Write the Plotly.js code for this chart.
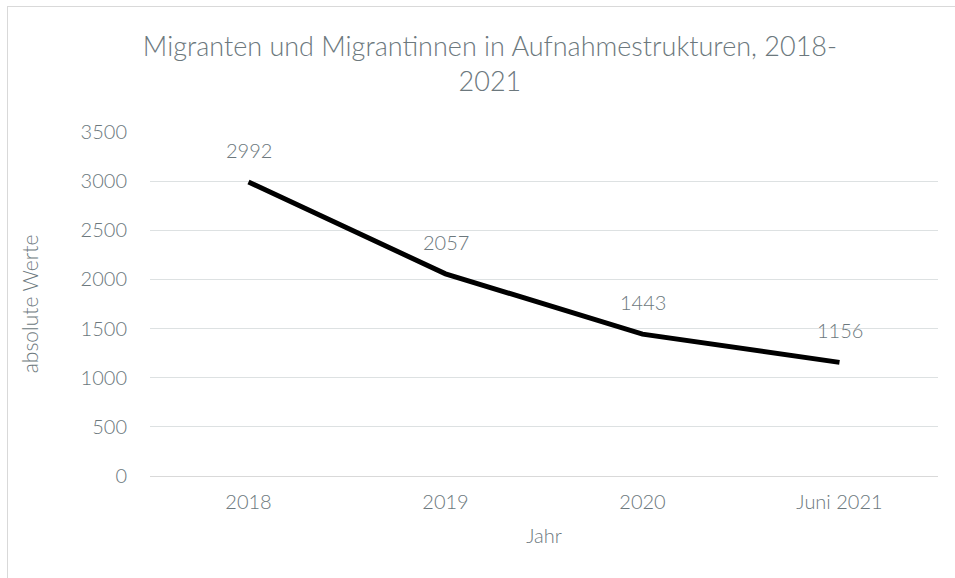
<!DOCTYPE html>
<html>
<head>
<meta charset="utf-8">
<script src="https://cdn.plot.ly/plotly-3.0.1.min.js"></script>
<style>
  html, body { margin: 0; padding: 0; background: #ffffff; overflow: hidden; }
  #wrap { position: relative; width: 955px; height: 578px; }
  #chart { width: 955px; height: 578px; }
  #frame { position: absolute; left: 7px; top: 6px; width: 1000px; height: 700px;
           border: 1px solid #d9d9d9; pointer-events: none; box-sizing: border-box; }
</style>
</head>
<body>
<div id="wrap">
  <div id="chart"></div>
  <div id="frame"></div>
</div>
<script>
const categories = ["2018", "2019", "2020", "Juni 2021"];
const values = [2992, 2057, 1443, 1156];
const yTicks = [0, 500, 1000, 1500, 2000, 2500, 3000, 3500];

const textColor = "#6c787d";
const fontFamily = "Lato, 'Open Sans', sans-serif";
const fw = 300;

const trace = {
  type: "scatter",
  mode: "lines",
  x: categories,
  y: values,
  line: { color: "#000000", width: 5 },
  hoverinfo: "x+y",
  showlegend: false
};

const annotations = categories.map((c, i) => ({
  x: i,
  y: values[i],
  xref: "x",
  yref: "y",
  text: String(values[i]),
  showarrow: false,
  yshift: 32,
  font: { family: fontFamily, size: 20, color: textColor, weight: fw }
}));

const layout = {
  width: 955,
  height: 578,
  margin: { l: 150, r: 17, t: 132, b: 102 },
  paper_bgcolor: "#ffffff",
  plot_bgcolor: "#ffffff",
  font: { family: fontFamily, color: textColor, size: 20, weight: fw },
  title: {
    text: "Migranten und Migrantinnen in Aufnahmestrukturen, 2018-<br>2021",
    font: { family: fontFamily, size: 27, color: textColor, weight: fw },
    x: 0.513,
    xanchor: "center",
    y: 0.903,
    yanchor: "top"
  },
  xaxis: {
    type: "category",
    range: [-0.5, 3.5],
    showgrid: false,
    showline: true,
    linecolor: "#d9d9d9",
    linewidth: 1,
    zeroline: false,
    ticks: "",
    ticklabelstandoff: 8,
    tickfont: { family: fontFamily, size: 20, color: textColor, weight: fw },
    title: { text: "Jahr", font: { family: fontFamily, size: 20, color: textColor, weight: fw }, standoff: 16 }
  },
  yaxis: {
    range: [0, 3500],
    tickvals: yTicks,
    ticktext: yTicks.map(String),
    showgrid: true,
    gridcolor: "#dde1e2",
    gridwidth: 1,
    zeroline: false,
    showline: false,
    ticks: "",
    ticklabelstandoff: 22,
    tickfont: { family: fontFamily, size: 20, color: textColor, weight: fw },
    title: { text: "absolute Werte", font: { family: fontFamily, size: 21, color: textColor, weight: fw }, standoff: 36 }
  },
  annotations: annotations
};

Plotly.newPlot("chart", [trace], layout, { displayModeBar: false, staticPlot: true });
</script>
</body>
</html>
